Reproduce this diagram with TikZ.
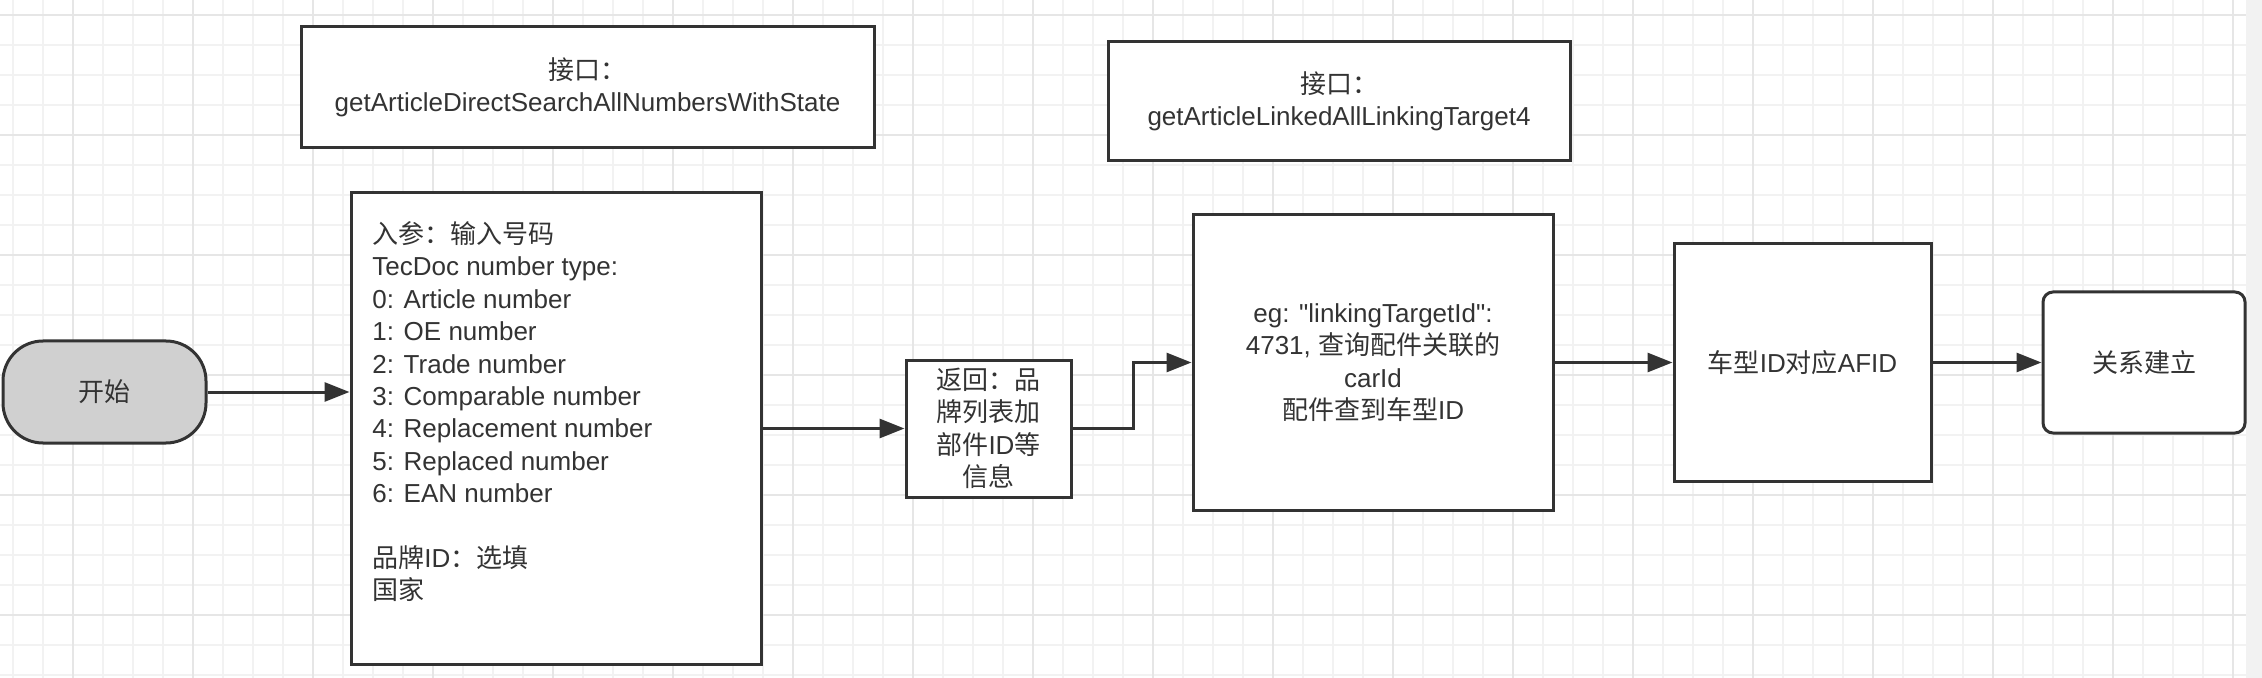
\documentclass[tikz,border=0pt]{standalone}
\usepackage{fontspec}
\setmainfont{Liberation Sans}[Ligatures=TeXOff]
\newfontfamily\cjk{Noto Sans CJK SC}
\newcommand{\zh}[1]{{\cjk #1}}
\usetikzlibrary{arrows.meta,positioning}
\definecolor{inkgray}{HTML}{333333}
\definecolor{startgray}{HTML}{D0D0D0}
\definecolor{gridminor}{HTML}{F2F2F2}
\definecolor{gridmajor}{HTML}{E6E6E6}
\begin{document}
\begin{tikzpicture}[x=0.5pt, y=-0.5pt,
  box/.style={draw=inkgray, line width=1.5pt, fill=white, text=inkgray, align=center, inner sep=0pt, font=\fontsize{13}{16.2}\selectfont},
  flow/.style={draw=inkgray, line width=1.5pt, -{Triangle[length=12.5pt, width=9.5pt]}}]
  \useasboundingbox (0,0) rectangle (2262,678);
  \fill[white] (0,0) rectangle (2246,678);
  \fill[gridminor] (2246,0) rectangle (2262,678);
  \foreach \gx in {12.7,42.7,...,2246} \draw[gridminor, line width=1pt] (\gx,0) -- (\gx,678);
  \foreach \gy in {14.7,44.7,...,678} \draw[gridminor, line width=1pt] (0,\gy) -- (2246,\gy);
  \foreach \gx in {72.7,192.7,...,2246} \draw[gridmajor, line width=1pt] (\gx,0) -- (\gx,678);
  \foreach \gy in {14.7,134.7,...,678} \draw[gridmajor, line width=1pt] (0,\gy) -- (2246,\gy);

  \node[box, minimum width=286.5pt, minimum height=60.5pt] (api1) at (587.5,87.5) {\zh{接口：}\\getArticleDirectSearchAllNumbersWithState};
  \node[box, minimum width=231pt, minimum height=59.5pt] (api2) at (1339,101.5) {\zh{接口：}\\getArticleLinkedAllLinkingTarget4};
  \node[box, fill=startgray, rounded corners=20pt, minimum width=101.5pt, minimum height=51pt] (start) at (104.5,392) {\zh{开始}};
  \node[box, minimum width=205pt, minimum height=235.5pt] (input) at (556,428.5) {};
  \node[text=inkgray, align=left, inner sep=0pt, anchor=west, font=\fontsize{13}{16.2}\selectfont] (inputtext) at (372,411.75)
    {\zh{入参：输入号码}\\TecDoc number type:\\0: Article number\\1: OE number\\2: Trade number\\3: Comparable number\\4: Replacement number\\5: Replaced number\\6: EAN number\\[16.2pt]\zh{品牌}ID\zh{：选填}\\\zh{国家}};
  \node[box, minimum width=82.5pt, minimum height=68.5pt] (ret) at (988.5,428.5) {\zh{返回：品}\\\zh{牌列表加}\\\zh{部件}ID\zh{等}\\\zh{信息}};
  \node[box, minimum width=180pt, minimum height=147.5pt] (eg) at (1373,362.5) {eg: "linkingTargetId":\\4731, \zh{查询配件关联的}\\carId\\\zh{配件查到车型}ID};
  \node[box, minimum width=128.5pt, minimum height=118.5pt] (afid) at (1802.5,362.5) {\zh{车型}ID\zh{对应}AFID};
  \node[box, rounded corners=5pt, minimum width=101pt, minimum height=70.5pt] (done) at (2144,362.5) {\zh{关系建立}};

  \draw[flow] (start.east) -- (input.west |- start.east);
  \draw[flow] (input) -- (ret);
  \draw[flow] (ret.east) -- ++(61,0) |- (eg.west);
  \draw[flow] (eg) -- (afid);
  \draw[flow] (afid) -- (done);
\end{tikzpicture}
\end{document}
